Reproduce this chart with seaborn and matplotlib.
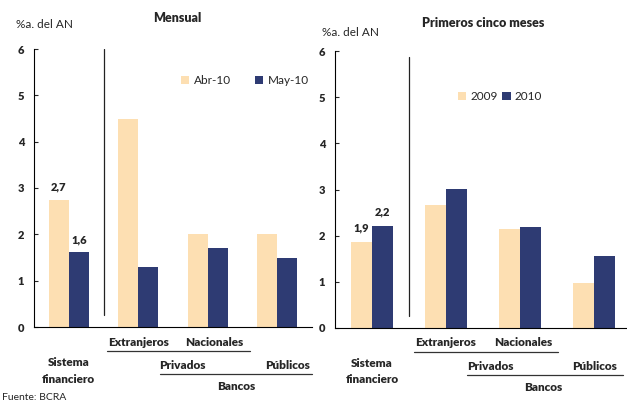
import pandas as pd
import numpy as np
import seaborn as sns
import matplotlib.pyplot as plt

sns.set_style('white')
plt.rcParams['font.family'] = ['Lato', 'DejaVu Sans']

# datos
categorias = ['Sistema financiero', 'Extranjeros', 'Nacionales', 'Públicos']
mensual_series = ['Abr-10', 'May-10']
mensual_abr = [2.75, 4.5, 2.0, 2.0]
mensual_may = [1.62, 1.3, 1.7, 1.5]
cinco_series = ['2009', '2010']
cinco_2009 = [1.87, 2.67, 2.15, 0.97]
cinco_2010 = [2.22, 3.02, 2.18, 1.57]
etiq_mensual = ['2,7', '1,6']
etiq_cinco = ['1,9', '2,2']
yticks = [0, 1, 2, 3, 4, 5, 6]

colores = ['#FDDFB2', '#2E3B73']
peso = 'heavy'


def armar_df(series, a, b):
    return pd.DataFrame({
        'cat': categorias * 2,
        'serie': [series[0]] * 4 + [series[1]] * 4,
        'valor': a + b,
    })


def panel(ax, df, series, etiquetas, xmax, sep_top, lab_pad):
    sns.barplot(data=df, x='cat', y='valor', hue='serie', hue_order=series,
                order=categorias, palette=colores, width=0.58, linewidth=0,
                saturation=1, ax=ax, legend=True)
    ax.set_xlim(-0.5, xmax)
    ax.set_ylim(0, 6)
    ax.set_yticks(yticks)
    ax.set_yticklabels([str(t) for t in yticks], fontweight=peso, fontsize=8)
    ax.set_xticks([])
    ax.set_xlabel('')
    ax.set_ylabel('')
    ax.tick_params(axis='y', direction='in', length=3, width=0.8, pad=7, left=True)
    for s in ['top', 'right']:
        ax.spines[s].set_visible(False)
    for s in ['left', 'bottom']:
        ax.spines[s].set_color('black')
        ax.spines[s].set_linewidth(0.8)
    # etiquetas sobre sistema financiero
    for cont, lab in zip(ax.containers, etiquetas):
        ax.bar_label(cont, labels=[lab, '', '', ''], padding=lab_pad,
                     fontweight=peso, fontsize=8)
    # separador
    ax.axvline(0.5, ymin=0.043, ymax=sep_top, color='#222222', lw=0.9)
    return ax


fig = plt.figure(figsize=(6.27, 4.03), dpi=100)

ax1 = fig.add_axes([34 / 627, 1 - 327 / 403, 278 / 627, 278 / 403])
panel(ax1, armar_df(mensual_series, mensual_abr, mensual_may),
      mensual_series, etiq_mensual, 3.5, 1.0, 5)
ax1.legend(frameon=False, ncol=2, loc='upper left',
           bbox_to_anchor=(181 / 627, 1 - 75 / 403), bbox_transform=fig.transFigure,
           fontsize=8.5, handlelength=0.7, handleheight=0.7, handletextpad=0.4,
           columnspacing=2.0, borderpad=0, borderaxespad=0)

ax2 = fig.add_axes([335 / 627, 1 - 328 / 403, 292 / 627, 277 / 403])
panel(ax2, armar_df(cinco_series, cinco_2009, cinco_2010),
      cinco_series, etiq_cinco, 3.446, 0.978, 6)
ax2.legend(frameon=False, ncol=2, loc='upper left',
           bbox_to_anchor=(458 / 627, 1 - 91 / 403), bbox_transform=fig.transFigure,
           fontsize=8.5, handlelength=0.7, handleheight=0.7, handletextpad=0.35,
           columnspacing=0.4, borderpad=0, borderaxespad=0)


def etiquetas_x(ax, pos):
    tr = ax.get_xaxis_transform()
    kw = dict(transform=tr, ha='center', va='center', fontweight=peso, fontsize=8.5)
    ax.text(0, -0.158, 'Sistema\nfinanciero', linespacing=1.6, **kw)
    ax.text(1, -0.054, 'Extranjeros', **kw)
    ax.text(pos['nac'], -0.054, 'Nacionales', **kw)
    ax.plot(pos['l1'], [-0.086, -0.086], transform=tr, color='#333333', lw=0.9, clip_on=False)
    ax.text(pos['priv'], -0.140, 'Privados', **kw)
    ax.text(pos['pub'], -0.140, 'Públicos', **kw)
    ax.plot(pos['l2'], [-0.169, -0.169], transform=tr, color='#333333', lw=0.9, clip_on=False)
    ax.text(pos['ban'], -0.215, 'Bancos', **kw)


etiquetas_x(ax1, dict(nac=2.1, l1=[0.55, 2.61], priv=1.64, pub=3.15, l2=[1.31, 3.5], ban=2.41))
etiquetas_x(ax2, dict(nac=2.04, l1=[0.57, 2.51], priv=1.6, pub=3.01, l2=[1.28, 3.39], ban=2.32))

fig.text(177 / 627, 1 - 18 / 403, 'Mensual', ha='center', va='center',
         fontweight=peso, fontsize=9)
fig.text(16 / 627, 1 - 25 / 403, '%a. del AN', ha='left', va='center', fontsize=8.5)
fig.text(483 / 627, 1 - 23 / 403, 'Primeros cinco meses', ha='center', va='center',
         fontweight=peso, fontsize=9)
fig.text(322 / 627, 1 - 33 / 403, '%a. del AN', ha='left', va='center', fontsize=8.5)
fig.text(2 / 627, 1 - 397 / 403, 'Fuente: BCRA', ha='left', va='center', fontsize=7.5)

fig.savefig('out.png', dpi=100)
